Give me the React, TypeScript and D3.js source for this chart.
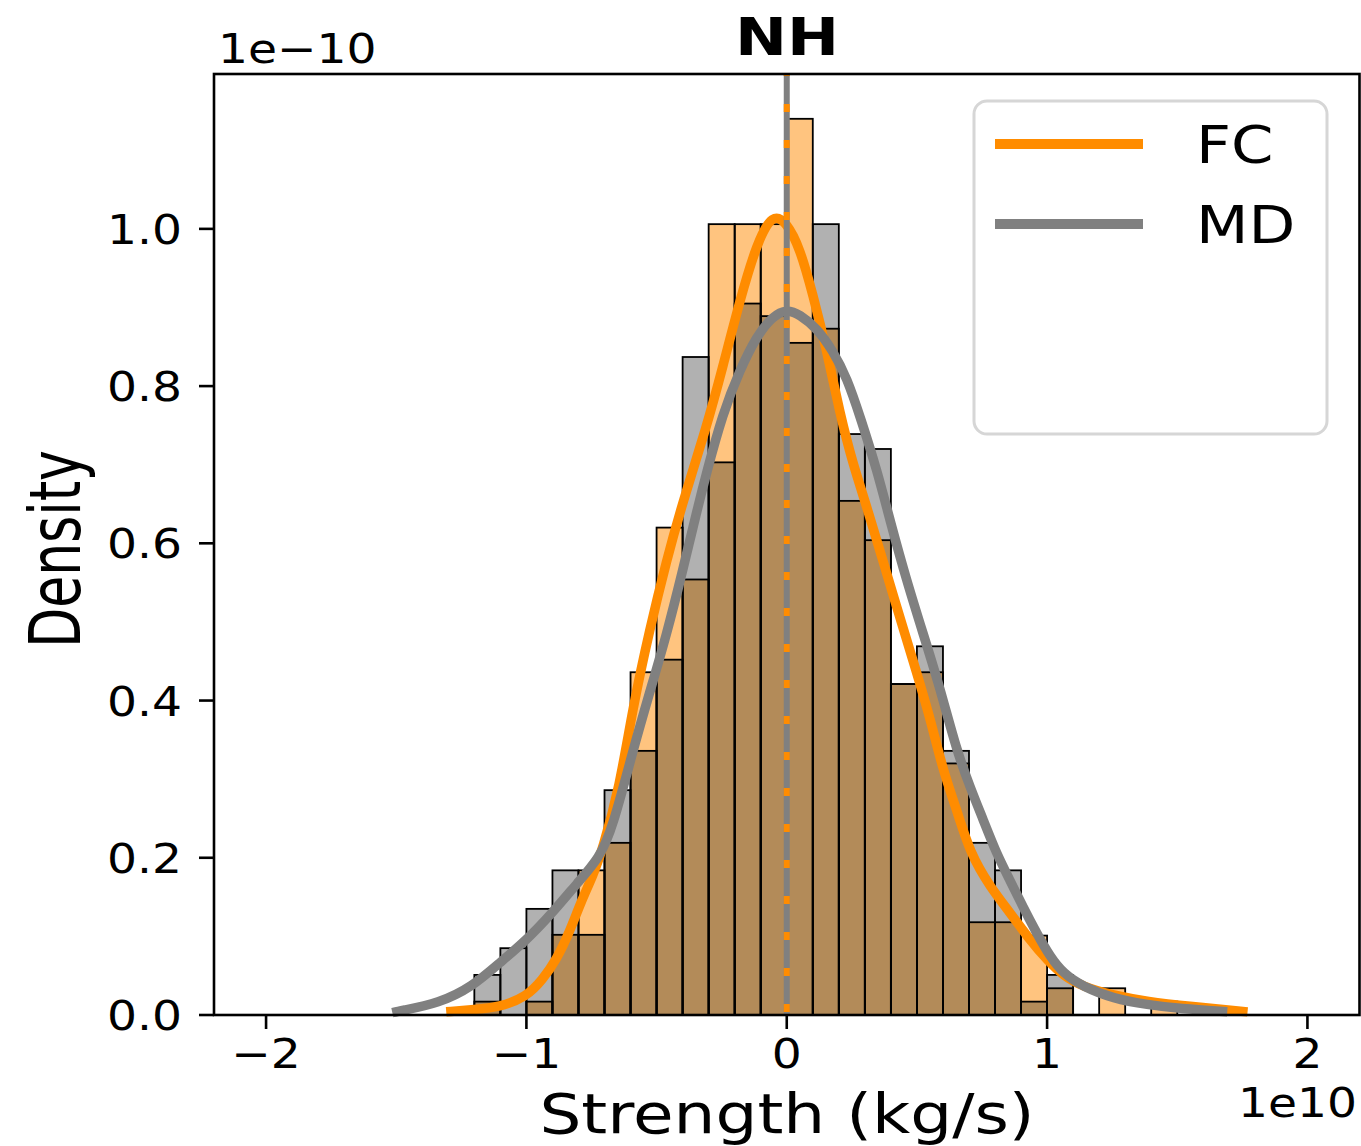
import React, { useEffect } from 'react';
import * as d3 from 'd3';

// ---------------- data ----------------
const binLefts = [-1.2, -1.1, -1.0, -0.9, -0.8, -0.7, -0.6, -0.5, -0.4, -0.3, -0.2, -0.1, 0.0, 0.1, 0.2, 0.3, 0.4, 0.5, 0.6, 0.7, 0.8, 0.9, 1.0, 1.1, 1.2, 1.3, 1.4];
const binWidth = 0.1;
const fcDensity = [0.017, 0, 0.017, 0.102, 0.184, 0.219, 0.436, 0.62, 0.554, 1.006, 1.006, 1.006, 1.14, 0.873, 0.654, 0.604, 0.421, 0.436, 0.32, 0.118, 0.118, 0.101, 0.034, 0, 0.034, 0, 0.017];
const mdDensity = [0.051, 0.085, 0.135, 0.184, 0.102, 0.286, 0.336, 0.452, 0.837, 0.703, 0.905, 0.889, 0.855, 1.006, 0.739, 0.72, 0.421, 0.469, 0.336, 0.219, 0.184, 0.017, 0.051, 0, 0, 0, 0];

const fcKdeX = [-1.308, -1.2, -1.104, -1.0, -0.938, -0.885, -0.835, -0.788, -0.746, -0.708, -0.642, -0.592, -0.527, -0.462, -0.4, -0.308, -0.246, -0.181, -0.115, -0.054, 0, 0.05, 0.1, 0.154, 0.204, 0.255, 0.3, 0.423, 0.485, 0.55, 0.6, 0.654, 0.704, 0.781, 0.858, 0.935, 1.0, 1.062, 1.138, 1.254, 1.385, 1.55, 1.77];
const fcKdeY = [0.004, 0.007, 0.01, 0.023, 0.045, 0.07, 0.105, 0.146, 0.176, 0.21, 0.29, 0.39, 0.49, 0.578, 0.652, 0.748, 0.824, 0.908, 0.982, 1.02, 1.008, 0.976, 0.917, 0.845, 0.765, 0.7, 0.655, 0.518, 0.451, 0.379, 0.311, 0.26, 0.206, 0.163, 0.13, 0.095, 0.07, 0.05, 0.036, 0.025, 0.017, 0.011, 0.004];

const mdKdeX = [-1.515, -1.488, -1.335, -1.208, -1.104, -1.0, -0.9, -0.804, -0.719, -0.669, -0.592, -0.527, -0.462, -0.4, -0.346, -0.308, -0.246, -0.181, -0.115, -0.054, 0, 0.05, 0.115, 0.177, 0.231, 0.285, 0.345, 0.4, 0.46, 0.524, 0.588, 0.652, 0.704, 0.755, 0.806, 0.858, 0.908, 0.96, 1.012, 1.062, 1.138, 1.254, 1.385, 1.512, 1.692];
const mdKdeY = [0.003, 0.005, 0.015, 0.036, 0.066, 0.095, 0.13, 0.168, 0.2, 0.238, 0.335, 0.41, 0.483, 0.565, 0.64, 0.69, 0.765, 0.82, 0.864, 0.889, 0.898, 0.891, 0.874, 0.845, 0.811, 0.758, 0.695, 0.625, 0.553, 0.485, 0.417, 0.337, 0.29, 0.248, 0.205, 0.171, 0.137, 0.104, 0.074, 0.053, 0.036, 0.021, 0.013, 0.008, 0.004];

const xTicks = [-2, -1, 0, 1, 2];
const xTickLabels = ['\u22122', '\u22121', '0', '1', '2'];
const yTicks = [0, 0.2, 0.4, 0.6, 0.8, 1.0];
const yTickLabels = ['0.0', '0.2', '0.4', '0.6', '0.8', '1.0'];
const meanLines = [0];
const seriesNames = ['FC', 'MD'];

// ---------------- styles ----------------
const W = 1361;
const H = 1146;
const M = { left: 214, right: 1359.5, top: 74, bottom: 1015 };
const ORANGE = '#ff8c00';
const GRAY = '#808080';
const LIGHT_ORANGE = '#ffc47f';
const LIGHT_GRAY = '#b1b1b1';
const BROWN = '#b38b59';
const FONT = "'DejaVu Sans', 'Liberation Sans', sans-serif";
const SX = 1.15;

export default function App() {
  useEffect(() => {
    document.body.style.margin = '0';
  }, []);

  const x = d3.scaleLinear().domain([-2.2, 2.2]).range([M.left, M.right]);
  const y = d3.scaleLinear().domain([0, 1.197]).range([M.bottom, M.top]);

  const line = d3
    .line<[number, number]>()
    .x((d) => x(d[0]))
    .y((d) => y(d[1]))
    .curve(d3.curveBasis);

  const fcPts = fcKdeX.map((v, i) => [v, fcKdeY[i]] as [number, number]);
  const mdPts = mdKdeX.map((v, i) => [v, mdKdeY[i]] as [number, number]);

  const bars = binLefts.map((b, i) => {
    const x0 = x(b);
    const x1 = x(b + binWidth);
    const fc = fcDensity[i];
    const md = mdDensity[i];
    const lo = Math.min(fc, md);
    const hi = Math.max(fc, md);
    const hiColor = fc > md ? LIGHT_ORANGE : LIGHT_GRAY;
    return (
      <g key={i}>
        {hi > lo && (
          <rect x={x0} y={y(hi)} width={x1 - x0} height={y(lo) - y(hi)} fill={hiColor} />
        )}
        {lo > 0 && <rect x={x0} y={y(lo)} width={x1 - x0} height={y(0) - y(lo)} fill={BROWN} />}
      </g>
    );
  });

  const outlines = binLefts.map((b, i) => {
    const x0 = x(b);
    const x1 = x(b + binWidth);
    return (
      <g key={i} fill="none" stroke="#000" strokeWidth={1.8}>
        {fcDensity[i] > 0 && (
          <rect x={x0} y={y(fcDensity[i])} width={x1 - x0} height={y(0) - y(fcDensity[i])} />
        )}
        {mdDensity[i] > 0 && (
          <rect x={x0} y={y(mdDensity[i])} width={x1 - x0} height={y(0) - y(mdDensity[i])} />
        )}
      </g>
    );
  });

  return (
    <svg
      width={W}
      height={H}
      style={{ position: 'absolute', left: 0, top: 0, display: 'block', background: '#fff' }}
      fontFamily={FONT}
    >
      <rect x={0} y={0} width={W} height={H} fill="#fff" />
      {bars}
      {outlines}
      <path d={line(fcPts) || ''} fill="none" stroke={ORANGE} strokeWidth={9.5} strokeLinejoin="round" />
      <path d={line(mdPts) || ''} fill="none" stroke={GRAY} strokeWidth={9.5} strokeLinejoin="round" />
      {meanLines.map((m, i) => (
        <g key={i}>
          <line x1={x(m)} x2={x(m)} y1={M.top} y2={M.bottom} stroke={GRAY} strokeWidth={6} />
          <line
            x1={x(m)}
            x2={x(m)}
            y1={M.top}
            y2={M.bottom}
            stroke={ORANGE}
            strokeWidth={6}
            strokeDasharray="8 28"
            strokeDashoffset={6}
          />
        </g>
      ))}

      {/* spines */}
      <rect
        x={M.left}
        y={M.top}
        width={M.right - M.left}
        height={M.bottom - M.top}
        fill="none"
        stroke="#000"
        strokeWidth={2.6}
      />

      {/* y ticks */}
      {yTicks.map((t, i) => (
        <g key={i}>
          <line x1={M.left - 15} x2={M.left} y1={y(t)} y2={y(t)} stroke="#000" strokeWidth={2.6} />
          <text
            transform={`translate(${M.left - 32},${y(t) + 15}) scale(${SX},1)`}
            textAnchor="end"
            fontSize={41}
            fill="#000"
          >
            {yTickLabels[i]}
          </text>
        </g>
      ))}

      {/* x ticks */}
      {xTicks.map((t, i) => (
        <g key={i}>
          <line x1={x(t)} x2={x(t)} y1={M.bottom} y2={M.bottom + 14} stroke="#000" strokeWidth={2.6} />
          <text
            transform={`translate(${x(t)},${M.bottom + 53}) scale(${SX},1)`}
            textAnchor="middle"
            fontSize={41}
            fill="#000"
          >
            {xTickLabels[i]}
          </text>
        </g>
      ))}

      {/* offset texts */}
      <text transform={`translate(218,63) scale(${SX},1)`} fontSize={41} fill="#000">
        1e{'\u2212'}10
      </text>
      <text transform={`translate(1357,1117) scale(${SX},1)`} textAnchor="end" fontSize={41} fill="#000">
        1e10
      </text>

      {/* axis labels */}
      <text transform={`translate(787,1133) scale(1.18,1)`} textAnchor="middle" fontSize={56} fill="#000">
        Strength (kg/s)
      </text>
      <text transform={`translate(80,549) rotate(-90) scale(1,1.36)`} textAnchor="middle" fontSize={52} fill="#000">
        Density
      </text>

      {/* title */}
      <text
        transform={`translate(787,55) scale(1.22,1)`}
        textAnchor="middle"
        fontSize={51}
        fontWeight="bold"
        fill="#000"
      >
        NH
      </text>

      {/* legend */}
      <rect x={974} y={101} width={353} height={333} rx={13} ry={13} fill="#fff" stroke="#d6d6d6" strokeWidth={3} />
      {seriesNames.map((n, i) => (
        <g key={n}>
          <line
            x1={995}
            x2={1143}
            y1={144 + i * 80}
            y2={144 + i * 80}
            stroke={i === 0 ? ORANGE : GRAY}
            strokeWidth={10}
          />
          <text transform={`translate(1196,${163 + i * 80}) scale(1.17,1)`} fontSize={52} fill="#000">
            {n}
          </text>
        </g>
      ))}
    </svg>
  );
}
